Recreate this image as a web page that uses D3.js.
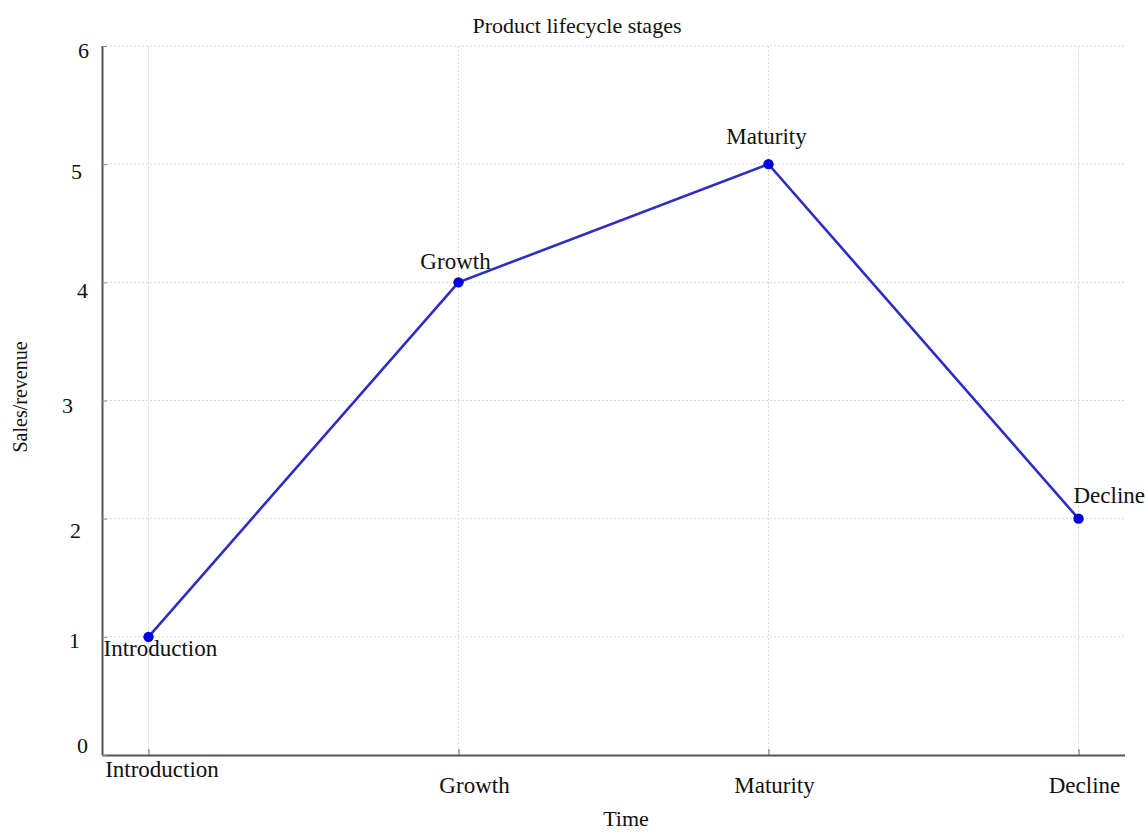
<!DOCTYPE html>
<html>
<head>
<meta charset="utf-8">
<script src="https://cdn.jsdelivr.net/npm/d3@7"></script>
<style>
  html, body { margin: 0; padding: 0; background: #fff; }
  svg { display: block; font-family: "Liberation Serif", "Times New Roman", serif; }
</style>
</head>
<body>
<svg id="chart" width="1145" height="832"></svg>
<script>
// Product lifecycle stages and their relative sales/revenue
const stages = ["Introduction", "Growth", "Maturity", "Decline"];
const sales = [1, 4, 5, 2];
const yTicks = [0, 1, 2, 3, 4, 5, 6];

const svg = d3.select("#chart");
const plotLeft = 102, plotRight = 1125, plotTop = 46, plotBottom = 755;

const x = d3.scalePoint().domain(stages).range([plotLeft, plotRight]).padding(0.15);
const y = d3.scaleLinear().domain([0, 6]).range([plotBottom, plotTop]);

// dotted grid
const grid = svg.append("g").attr("stroke", "#d8d8d8").attr("stroke-width", 1)
  .attr("stroke-dasharray", "2,2");
grid.selectAll(".gx").data(stages).join("line")
  .attr("x1", d => x(d)).attr("x2", d => x(d))
  .attr("y1", plotTop).attr("y2", plotBottom);
grid.selectAll(".gy").data(yTicks.filter(v => v > 0)).join("line")
  .attr("x1", plotLeft).attr("x2", plotRight)
  .attr("y1", d => y(d)).attr("y2", d => y(d));

// axes
const xAxis = svg.append("g").attr("transform", `translate(0,${plotBottom})`)
  .call(d3.axisBottom(x).tickSize(-6).tickFormat(""));
xAxis.select(".domain").attr("stroke", "#555").attr("stroke-width", 2)
  .attr("d", `M${plotLeft},0.5H${plotRight}`);
xAxis.selectAll(".tick line").attr("stroke", "#666");

const yAxis = svg.append("g").attr("transform", `translate(${plotLeft},0)`)
  .call(d3.axisLeft(y).tickValues(yTicks).tickSize(-5).tickFormat(""));
yAxis.select(".domain").attr("stroke", "#555").attr("stroke-width", 2)
  .attr("d", `M0.5,${plotTop}V${plotBottom}`);
yAxis.selectAll(".tick line").attr("stroke", "#888");

// y tick labels, each nudged slightly off its tick
const yLabelShift = [
  { dx: 0, dy: -2 }, { dx: -8, dy: 11 }, { dx: -7, dy: 19 }, { dx: -15, dy: 12 },
  { dx: 0, dy: 16 }, { dx: -6, dy: 15 }, { dx: 1, dy: 12 }
];
svg.append("g").selectAll("text").data(yTicks).join("text")
  .attr("x", (d, i) => 88 + yLabelShift[i].dx)
  .attr("y", (d, i) => y(d) + yLabelShift[i].dy)
  .attr("text-anchor", "end").attr("font-size", 22).attr("fill", "#111")
  .text(d => d);

// x tick labels (first one sits higher)
const xLabelShift = [
  { dx: 13.5, y: 777 }, { dx: 16, y: 793 }, { dx: 6, y: 793 }, { dx: 6, y: 793 }
];
svg.append("g").selectAll("text").data(stages).join("text")
  .attr("x", (d, i) => x(d) + xLabelShift[i].dx)
  .attr("y", (d, i) => xLabelShift[i].y)
  .attr("text-anchor", "middle").attr("font-size", 23).attr("fill", "#111")
  .text(d => d);

// line
const line = d3.line().x(d => x(d.stage)).y(d => y(d.value));
const pts = stages.map((s, i) => ({ stage: s, value: sales[i] }));
svg.append("path").datum(pts)
  .attr("d", line).attr("fill", "none")
  .attr("stroke", "#2e2ec4").attr("stroke-width", 2.6);

svg.append("g").selectAll("circle").data(pts).join("circle")
  .attr("cx", d => x(d.stage)).attr("cy", d => y(d.value))
  .attr("r", 5.2).attr("fill", "#0000e0");

// point labels
const labelPos = [
  { dx: -45, dy: 19, anchor: "start" },
  { dx: -3, dy: -13, anchor: "middle" },
  { dx: -2, dy: -20, anchor: "middle" },
  { dx: -5, dy: -16, anchor: "start" }
];
svg.append("g").selectAll("text").data(pts).join("text")
  .attr("x", (d, i) => x(d.stage) + labelPos[i].dx)
  .attr("y", (d, i) => y(d.value) + labelPos[i].dy)
  .attr("text-anchor", (d, i) => labelPos[i].anchor)
  .attr("font-size", 23).attr("fill", "#111")
  .text(d => d.stage);

// titles
svg.append("text").attr("x", 577).attr("y", 33).attr("text-anchor", "middle")
  .attr("font-size", 22).attr("fill", "#111").text("Product lifecycle stages");
svg.append("text").attr("x", 626).attr("y", 826).attr("text-anchor", "middle")
  .attr("font-size", 22).attr("fill", "#111").text("Time");
svg.append("text").attr("transform", "translate(27,397) rotate(-90)")
  .attr("text-anchor", "middle").attr("font-size", 20).attr("fill", "#111")
  .text("Sales/revenue");
</script>
</body>
</html>
